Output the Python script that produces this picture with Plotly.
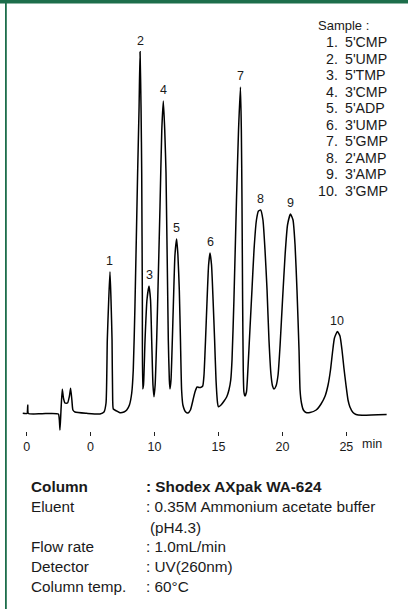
import plotly.graph_objects as go

# ---------------- data ----------------
time_min = [-0.30, 0.03, 0.09, 0.14, 1.20, 2.48, 2.56, 2.61, 2.69, 2.79, 2.88, 3.00, 3.20, 3.35, 3.44,
            3.54, 3.62, 3.78, 4.70, 5.74, 6.05, 6.21, 6.31, 6.42, 6.52, 6.60, 6.68, 6.73, 6.78, 7.04,
            7.30, 7.61, 7.83, 8.04, 8.22, 8.34, 8.47, 8.68, 8.79, 8.87, 8.95, 9.00, 9.05, 9.08, 9.14,
            9.26, 9.41, 9.57, 9.69, 9.78, 9.88, 9.96, 10.05, 10.17, 10.31, 10.43, 10.57, 10.69, 10.80,
            10.90, 11.08, 11.16, 11.21, 11.29, 11.47, 11.60, 11.73, 11.83, 11.94, 12.03, 12.12, 12.22,
            12.44, 12.62, 12.81, 13.01, 13.17, 13.33, 13.48, 13.60, 13.77, 13.87, 13.99, 14.11, 14.23,
            14.34, 14.46, 14.58, 14.70, 14.81, 14.93, 14.99, 15.20, 15.44, 15.65, 15.82, 15.96, 16.06,
            16.21, 16.41, 16.57, 16.72, 16.79, 16.84, 16.89, 16.94, 16.99, 17.07, 17.19, 17.30, 17.46,
            17.62, 17.78, 17.97, 18.13, 18.30, 18.48, 18.64, 18.80, 18.95, 19.11, 19.23, 19.34, 19.50,
            19.66, 19.82, 20.01, 20.21, 20.40, 20.63, 20.83, 20.99, 21.14, 21.30, 21.38, 21.49, 21.64,
            21.85, 22.16, 22.64, 23.02, 23.34, 23.57, 23.76, 23.92, 24.07, 24.30, 24.50, 24.66, 24.81,
            24.97, 25.13, 25.28, 25.52, 25.76, 26.23, 28.15]
signal = [0.2, 0.0, 8.5, 0.0, -0.2, -0.5, -6.5, -16.5, 3.5, 24.2, 15.5, 10.5, 10.5, 17.5, 25.2,
          13.5, 3.5, 1.5, 0.2, -0.5, 1.5, 10.5, 73.5, 113.5, 141.8, 113.5, 73.5, 13.5, 4.5, 2.5,
          0.8, 1.5, 3.5, 8.5, 20.5, 43.5, 106.5, 240.5, 303.5, 361.8, 303.5, 240.5, 113.5, 24.5, 28.5,
          73.5, 113.5, 127.5, 113.5, 73.5, 28.5, 16.8, 28.5, 73.5, 143.5, 206.8, 283.5, 312.5, 283.5,
          240.5, 73.5, 33.5, 24.5, 33.5, 106.8, 158.5, 174.5, 158.5, 123.5, 73.5, 23.5, 8.5,
          1.5, 0.5, 3.5, 13.5, 21.8, 26.5, 26.0, 26.0, 27.5, 38.5, 73.5, 113.5, 148.5,
          160.5, 148.5, 113.5, 73.5, 33.5, 10.5, 6.8, 8.5, 12.5, 16.8, 23.5, 33.5, 53.5,
          113.5, 213.5, 283.5, 326.5, 283.5, 213.5, 113.5, 43.5, 21.5, 17.5, 21.5, 43.5, 83.5,
          123.5, 163.5, 193.5, 202.5, 203.5, 193.5, 163.5, 123.5, 73.5, 38.5, 27.5, 24.5, 27.5,
          38.5, 68.5, 113.5, 158.5, 188.5, 199.5, 193.5, 168.5, 123.5, 63.5, 23.5, 10.5, 3.5,
          1.0, 1.0, 3.5, 9.5, 17.5, 28.5, 43.5, 61.5, 75.5, 82.0, 77.5, 63.5, 45.5,
          28.5, 13.5, 6.5, 1.0, -1.0, -1.7, -1.0]

peak_numbers = ["1", "2", "3", "4", "5", "6", "7", "8", "9", "10"]
peak_times = [6.52, 8.87, 9.57, 10.69, 11.73, 14.34, 16.72, 18.30, 20.63, 24.30]
peak_heights = [141.8, 361.8, 127.5, 312.5, 174.5, 160.5, 326.5, 203.5, 199.5, 82.0]

sample_names = ["5'CMP", "5'UMP", "5'TMP", "3'CMP", "5'ADP", "3'UMP", "5'GMP", "2'AMP", "3'AMP", "3'GMP"]

tick_values = [0, 5, 10, 15, 20, 25]
tick_labels = ["0", "0", "10", "15", "20", "25"]

cond_labels = ["Column", "Eluent", "", "Flow rate", "Detector", "Column temp."]
cond_values = [": Shodex AXpak WA-624", ": 0.35M Ammonium acetate buffer", "(pH4.3)",
               ": 1.0mL/min", ": UV(260nm)", ": 60°C"]

# ---------------- layout geometry (pixels) ----------------
W, H = 408, 609
L, R, T, B = 20, 20, 20, 178
PW, PH = W - L - R, H - T - B
FONT = "Liberation Sans, Arial, Helvetica, sans-serif"
GREEN = "#1d6e4b"
TXT = "#1a1a1a"


def px(x):
    return (x - L) / PW


def py(y):
    return (H - B - y) / PH


fig = go.Figure()
fig.add_trace(go.Scatter(x=time_min, y=signal, mode="lines",
                         line=dict(color="#000000", width=1.5, shape="spline", smoothing=0.5),
                         hoverinfo="skip", showlegend=False))

ann = []
for n, t, h in zip(peak_numbers, peak_times, peak_heights):
    ann.append(dict(x=t, y=h, xref="x", yref="y", text=n, showarrow=False, yshift=11,
                    xanchor="center", yanchor="middle", font=dict(size=12.5, color=TXT, family=FONT)))

# sample legend
ann.append(dict(x=px(316), y=py(26), xref="paper", yref="paper", text="Sample :", showarrow=False,
                xanchor="left", yanchor="middle", font=dict(size=13, color=TXT, family=FONT)))
for i, name in enumerate(sample_names):
    yy = 42.3 + 16.52 * i
    ann.append(dict(x=px(339.5), y=py(yy), xref="paper", yref="paper", text=f"{i + 1}.",
                    showarrow=False, xanchor="right", yanchor="middle",
                    font=dict(size=14.2, color=TXT, family=FONT)))
    ann.append(dict(x=px(343), y=py(yy), xref="paper", yref="paper", text=name,
                    showarrow=False, xanchor="left", yanchor="middle",
                    font=dict(size=14.2, color=TXT, family=FONT)))

# axis unit
ann.append(dict(x=px(372), y=py(443.5), xref="paper", yref="paper", text="min", showarrow=False,
                xanchor="center", yanchor="middle", font=dict(size=12.5, color=TXT, family=FONT)))

# conditions
cond_y = [486.7, 506.7, 527.0, 546.7, 566.7, 586.7]
for i, (lab, val, yy) in enumerate(zip(cond_labels, cond_values, cond_y)):
    bold = i == 0
    if lab:
        ann.append(dict(x=px(29), y=py(yy), xref="paper", yref="paper",
                        text=f"<b>{lab}</b>" if bold else lab, showarrow=False,
                        xanchor="left", yanchor="middle", font=dict(size=15.3, color=TXT, family=FONT)))
    xv = 144 if val.startswith(":") else 148
    ann.append(dict(x=px(xv), y=py(yy), xref="paper", yref="paper",
                    text=f"<b>{val}</b>" if bold else val, showarrow=False,
                    xanchor="left", yanchor="middle", font=dict(size=15.3, color=TXT, family=FONT)))

shapes = [
    dict(type="rect", xref="paper", yref="paper", x0=px(0), x1=px(W), y0=py(3.6), y1=py(0),
         fillcolor=GREEN, line=dict(width=0), layer="above"),
    dict(type="rect", xref="paper", yref="paper", x0=px(5), x1=px(6.8), y0=py(H), y1=py(3),
         fillcolor=GREEN, line=dict(width=0), layer="above"),
]

x0_px = 26.6
px_per_min = 12.79
fig.update_layout(
    width=W, height=H, margin=dict(l=L, r=R, t=T, b=B, pad=0),
    paper_bgcolor="white", plot_bgcolor="white",
    annotations=ann, shapes=shapes, showlegend=False,
    xaxis=dict(range=[(L - x0_px) / px_per_min, (W - R - x0_px) / px_per_min],
               tickvals=tick_values, ticktext=tick_labels, ticks="outside", ticklen=4, tickwidth=1,
               tickcolor="#222", showgrid=False, zeroline=False, showline=False,
               tickfont=dict(size=12.5, color=TXT, family=FONT), fixedrange=True),
    yaxis=dict(range=[-(H - B - 413.5), 413.5 - T], visible=False, showgrid=False, zeroline=False,
               fixedrange=True),
)

fig.write_html("out.html", config={"displayModeBar": False})
